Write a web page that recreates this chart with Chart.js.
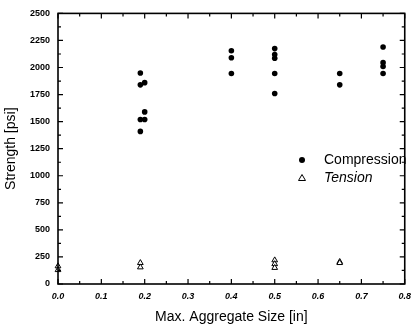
<!DOCTYPE html>
<html>
<head>
<meta charset="utf-8">
<script src="https://cdn.jsdelivr.net/npm/chart.js@4"></script>
<style>
html,body{margin:0;padding:0;background:#fff;}
#wrap{width:418px;height:332px;}
</style>
</head>
<body>
<div id="wrap"><canvas id="c" width="418" height="332"></canvas></div>
<script>
// Data
const compressionX = [0.19, 0.19, 0.19, 0.19, 0.2, 0.2, 0.2, 0.4, 0.4, 0.4, 0.5, 0.5, 0.5, 0.5, 0.5, 0.65, 0.65, 0.75, 0.75, 0.75, 0.75];
const compressionY = [1950, 1840, 1520, 1410, 1860, 1590, 1520, 2155, 2090, 1945, 2175, 2120, 2085, 1945, 1760, 1945, 1840, 2190, 2045, 2010, 1945];
const tensionX = [0.0, 0.0, 0.19, 0.19, 0.5, 0.5, 0.5, 0.65, 0.65];
const tensionY = [165, 130, 195, 155, 220, 185, 150, 205, 195];
const xTicks = [0, 0.1, 0.2, 0.3, 0.4, 0.5, 0.6, 0.7, 0.8];
const yTicks = [0, 250, 500, 750, 1000, 1250, 1500, 1750, 2000, 2250, 2500];
const legendLabels = ['Compression', 'Tension'];
const xTitle = 'Max. Aggregate Size [in]';
const yTitle = 'Strength [psi]';

const toPts = (xs, ys) => xs.map((x, i) => ({x: x, y: ys[i]}));
const FONT = '"Liberation Sans", Arial, sans-serif';

const framePlugin = {
  id: 'frame',
  afterDatasetsDraw(chart) {
    const ctx = chart.ctx;
    const a = chart.chartArea;
    const xs = chart.scales.x, ys = chart.scales.y;
    ctx.save();
    ctx.strokeStyle = '#000';
    ctx.lineWidth = 1.6;
    ctx.strokeRect(a.left, a.top, a.right - a.left, a.bottom - a.top);
    ctx.lineWidth = 1.2;
    ctx.beginPath();
    for (let i = 0; i < xTicks.length; i++) {
      const px = xs.getPixelForValue(xTicks[i]);
      ctx.moveTo(px, a.bottom); ctx.lineTo(px, a.bottom - 5);
      ctx.moveTo(px, a.top); ctx.lineTo(px, a.top + 5);
      if (i < xTicks.length - 1) {
        const pm = xs.getPixelForValue((xTicks[i] + xTicks[i + 1]) / 2);
        ctx.moveTo(pm, a.bottom); ctx.lineTo(pm, a.bottom - 3);
        ctx.moveTo(pm, a.top); ctx.lineTo(pm, a.top + 3);
      }
    }
    for (let i = 0; i < yTicks.length; i++) {
      const py = ys.getPixelForValue(yTicks[i]);
      ctx.moveTo(a.left, py); ctx.lineTo(a.left + 5, py);
      ctx.moveTo(a.right, py); ctx.lineTo(a.right - 5, py);
      if (i < yTicks.length - 1) {
        const pm = ys.getPixelForValue((yTicks[i] + yTicks[i + 1]) / 2);
        ctx.moveTo(a.left, pm); ctx.lineTo(a.left + 3, pm);
        ctx.moveTo(a.right, pm); ctx.lineTo(a.right - 3, pm);
      }
    }
    ctx.stroke();

    // legend
    const lx = 302, ly1 = 160, ly2 = 178, tx = 324;
    ctx.fillStyle = '#000';
    ctx.beginPath();
    ctx.arc(lx, ly1, 3, 0, Math.PI * 2);
    ctx.fill();
    ctx.lineWidth = 1;
    ctx.beginPath();
    ctx.moveTo(lx, ly2 - 3.5);
    ctx.lineTo(lx + 3.5, ly2 + 2.5);
    ctx.lineTo(lx - 3.5, ly2 + 2.5);
    ctx.closePath();
    ctx.stroke();
    ctx.textBaseline = 'middle';
    ctx.textAlign = 'left';
    ctx.font = '14px ' + FONT;
    ctx.fillText(legendLabels[0], tx, ly1);
    ctx.font = 'italic 14px ' + FONT;
    ctx.fillText(legendLabels[1], tx, ly2);
    ctx.restore();
  }
};

new Chart(document.getElementById('c'), {
  type: 'scatter',
  data: {
    datasets: [
      {
        label: legendLabels[0],
        data: toPts(compressionX, compressionY),
        pointStyle: 'circle',
        pointRadius: 2.8,
        backgroundColor: '#000',
        borderColor: '#000',
        borderWidth: 0,
        clip: false
      },
      {
        label: legendLabels[1],
        data: toPts(tensionX, tensionY),
        pointStyle: 'triangle',
        pointRadius: 3.3,
        backgroundColor: '#fff',
        borderColor: '#000',
        borderWidth: 1,
        clip: false
      }
    ]
  },
  options: {
    responsive: false,
    animation: false,
    devicePixelRatio: 1,
    layout: {padding: {left: 0, top: 9, right: 8, bottom: 0}},
    plugins: {legend: {display: false}, tooltip: {enabled: false}},
    scales: {
      x: {
        type: 'linear',
        min: 0, max: 0.8,
        afterBuildTicks: (s) => { s.ticks = xTicks.map(v => ({value: v})); },
        afterFit: (s) => { s.height = 48; },
        grid: {display: false, drawTicks: false},
        border: {display: false},
        ticks: {
          color: '#000',
          padding: 7,
          maxRotation: 0,
          autoSkip: false,
          font: {family: FONT, size: 9, style: 'italic', weight: 'bold'},
          callback: (v) => Number(v).toFixed(1)
        },
        title: {
          display: true,
          text: xTitle,
          color: '#000',
          font: {family: FONT, size: 14},
          padding: {top: 0, bottom: 6}
        }
      },
      y: {
        type: 'linear',
        min: 0, max: 2500,
        afterBuildTicks: (s) => { s.ticks = yTicks.map(v => ({value: v})); },
        afterFit: (s) => { s.width = 58; },
        grid: {display: false, drawTicks: false},
        border: {display: false},
        ticks: {
          color: '#000',
          padding: 8,
          autoSkip: false,
          font: {family: FONT, size: 9, weight: 'bold'},
          callback: (v) => String(v)
        },
        title: {
          display: true,
          text: yTitle,
          color: '#000',
          font: {family: FONT, size: 14},
          padding: {top: 3, bottom: 0}
        }
      }
    }
  },
  plugins: [framePlugin]
});
</script>
</body>
</html>
